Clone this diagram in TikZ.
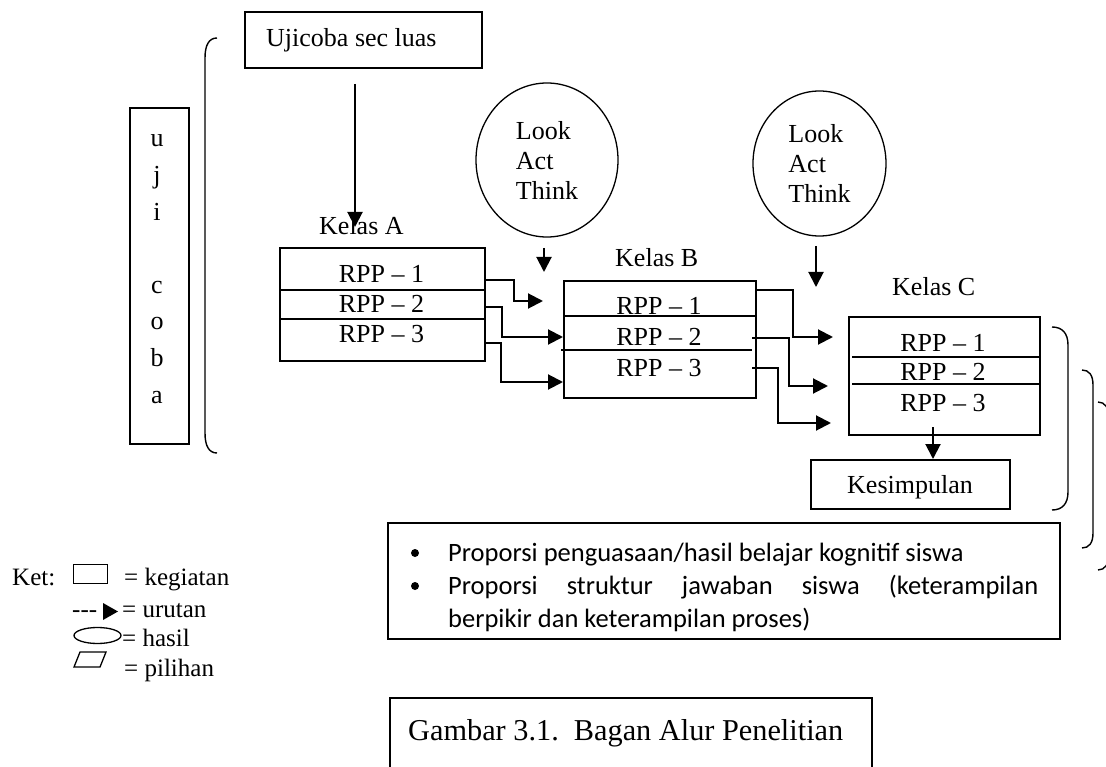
\documentclass[tikz,border=0pt]{standalone}
\usepackage{fontspec}
\setmainfont{Liberation Serif}
\newfontfamily\calfont{Carlito}
\usetikzlibrary{arrows.meta,shapes.geometric}

\begin{document}
\begin{tikzpicture}[x=1pt,y=-1pt,
  box/.style={draw, line width=1.6pt, inner sep=0pt, anchor=north west},
  txt/.style={inner sep=0pt, font=\fontsize{26}{30}\selectfont},
  legtxt/.style={inner sep=0pt, font=\fontsize{25}{30}\selectfont, anchor=base west},
  oval/.style={draw, ellipse, line width=1.3pt, inner sep=0pt, align=left,
               font=\fontsize{26}{30}\selectfont},
  arr/.style={line width=2pt, -{Triangle[length=15pt,width=15pt]}},
  divider/.style={line width=1.6pt},
  bracket/.style={line width=1.4pt},
  bullettxt/.style={inner sep=0pt, anchor=base west, font=\calfont\fontsize{26.5}{32}\selectfont}]

\useasboundingbox (0,0) rectangle (1106,767);

% ---- top: wide trial and the vertical "uji coba" label ----
\node[box, minimum width=237pt, minimum height=56pt] (uji) at (244,11) {};
\node[txt, anchor=base west] (ujitxt) at (266,47) {Ujicoba sec luas};

\node[box, minimum width=59pt, minimum height=336pt] (ujicoba) at (129,107) {};
\foreach \ch [count=\k from 0] in {u,j,i,{},c,o,b,a}
  \node[txt, anchor=base] (ltr\k) at (157,147+36.6*\k) {\strut\ch};

% left parenthesis
\draw[bracket] (217,38) .. controls (209,38) and (205,45) .. (205,58)
  -- (205,433) .. controls (205,446) and (209,453) .. (217,453);

% ---- Kelas A ----
\node[txt, anchor=base west] (labA) at (319,235) {Kelas A};
\node[box, minimum width=205pt, minimum height=113pt] (kelasA) at (279,247) {};
\draw[divider] (279,290) -- (484,290);
\draw[divider] (279,319) -- (484,319);
\node[txt, anchor=base] (a1t) at (381.5,283) {RPP -- 1};
\node[txt, anchor=base] (a2t) at (381.5,313) {RPP -- 2};
\node[txt, anchor=base] (a3t) at (381.5,343) {RPP -- 3};

% ---- Kelas B ----
\node[txt, anchor=base west] (labB) at (615,267) {Kelas B};
\node[box, minimum width=192pt, minimum height=117pt] (kelasB) at (563,280) {};
\draw[divider] (563,316) -- (757,316);
\draw[divider] (561,350) -- (752,350);
\node[txt, anchor=base] (b1t) at (659,315) {RPP -- 1};
\node[txt, anchor=base] (b2t) at (659,345) {RPP -- 2};
\node[txt, anchor=base] (b3t) at (659,376) {RPP -- 3};

% ---- Kelas C ----
\node[txt, anchor=base west] (labC) at (892,296) {Kelas C};
\node[box, minimum width=191pt, minimum height=118pt] (kelasC) at (848,316) {};
\draw[divider] (852,357) -- (1039,357);
\draw[divider] (852,384) -- (1039,384);
\node[txt, anchor=base] (c1t) at (943,352) {RPP -- 1};
\node[txt, anchor=base] (c2t) at (943,381) {RPP -- 2};
\node[txt, anchor=base] (c3t) at (943,411) {RPP -- 3};

% ---- Kesimpulan ----
\node[box, minimum width=199pt, minimum height=49pt] (kes) at (810,459) {};
\node[txt, anchor=base] (kestxt) at (910,493) {Kesimpulan};

% ---- Look / Act / Think ----
\node[oval, minimum width=142pt, minimum height=154pt] (lat1) at (547,160) {Look\\Act\\Think};
\node[oval, minimum width=133pt, minimum height=145pt] (lat2) at (819.5,163.5) {Look\\Act\\Think};

% ---- connector end points ----
\coordinate (u0) at (355,84);   \coordinate (u1) at (355,227);
\coordinate (l1s) at (544,248); \coordinate (l1e) at (544,272);
\coordinate (l2s) at (816,246); \coordinate (l2e) at (816,287);

\coordinate (a1) at (484,280);  \coordinate (bin1) at (543,301);
\coordinate (a2) at (484,307);  \coordinate (bin2) at (563,337);
\coordinate (a3) at (484,343);  \coordinate (bin3) at (563,382);

\coordinate (b1) at (755,290);  \coordinate (cin1) at (833,337);
\coordinate (b2) at (752,338);  \coordinate (cin2) at (828,386);
\coordinate (b3) at (752,368);  \coordinate (cin3) at (831,423);

\coordinate (c0) at (933,427);

% ---- connectors ----
\draw[arr] (u0) -- (u1);
\draw[arr] (l1s) -- (l1e);
\draw[arr] (l2s) -- (l2e);

\draw[arr] (a1) -- ++(30,0) |- (bin1);
\draw[arr] (a2) -- ++(18,0) |- (bin2);
\draw[arr] (a3) -- ++(17,0) |- (bin3);

\draw[arr] (b1) -- ++(38,0) |- (cin1);
\draw[arr] (b2) -- ++(37,0) |- (cin2);
\draw[arr] (b3) -- ++(26,0) |- (cin3);

\draw[arr] (c0) -- (c0 |- kes.north);

% ---- right brackets ----
\draw[bracket] (1052,327) .. controls (1062,327) and (1068,333) .. (1068,345)
  -- (1068,492) .. controls (1068,504) and (1062,510) .. (1052,510);
\draw[bracket] (1082,370) .. controls (1089,370) and (1093,375) .. (1093,385)
  -- (1093,533) .. controls (1093,543) and (1089,548) .. (1082,548);
\draw[bracket] (1098,402) .. controls (1105,402) and (1109,408) .. (1109,418)
  -- (1109,554) .. controls (1109,564) and (1105,570) .. (1098,570);

% ---- summary box with bullet points ----
\node[box, minimum width=672pt, minimum height=116pt] (summary) at (387,522) {};
\begin{scope}
  \clip (387,522) rectangle (1059,632);
  \fill (415,553) circle[radius=4pt];
  \fill (415,586) circle[radius=4pt];
  \node[bullettxt] (s1) at (448,561) {Proporsi penguasaan/hasil belajar kognitif siswa};
  \node[bullettxt] (s2) at (448,594) {\makebox[590pt][s]{Proporsi struktur jawaban siswa (keterampilan}};
  \node[bullettxt] (s3) at (448,627) {berpikir dan keterampilan proses)};
\end{scope}

% ---- legend ----
\node[legtxt] (ket) at (12,585) {Ket:};
\node[draw, line width=1.4pt, inner sep=0pt, minimum width=34pt, minimum height=19pt, anchor=north west] (legbox) at (73,564) {};
\node[legtxt] (k1) at (124,585) {= kegiatan};
\node[legtxt] (dash) at (72,617) {{-}{-}{-}};
\fill (103,603) -- (118,611.5) -- (103,620) -- cycle;
\node[legtxt] (k2) at (122,617) {= urutan};
\draw[line width=1.3pt] (97.5,635.5) ellipse [x radius=23.5pt, y radius=8pt];
\node[legtxt] (k3) at (122,646) {= hasil};
\draw[line width=1.3pt] (80,652) -- (106,652) -- (100,667) -- (74,667) -- cycle;
\node[legtxt] (k4) at (124,676) {= pilihan};

% ---- figure caption ----
\draw[line width=1.6pt] (390,770) -- (390,698) -- (872,698) -- (872,770);
\node[inner sep=0pt, anchor=base west, font=\fontsize{30.3}{36}\selectfont] (cap) at (408,740) {Gambar 3.1.\ \ Bagan Alur Penelitian};

\end{tikzpicture}
\end{document}
